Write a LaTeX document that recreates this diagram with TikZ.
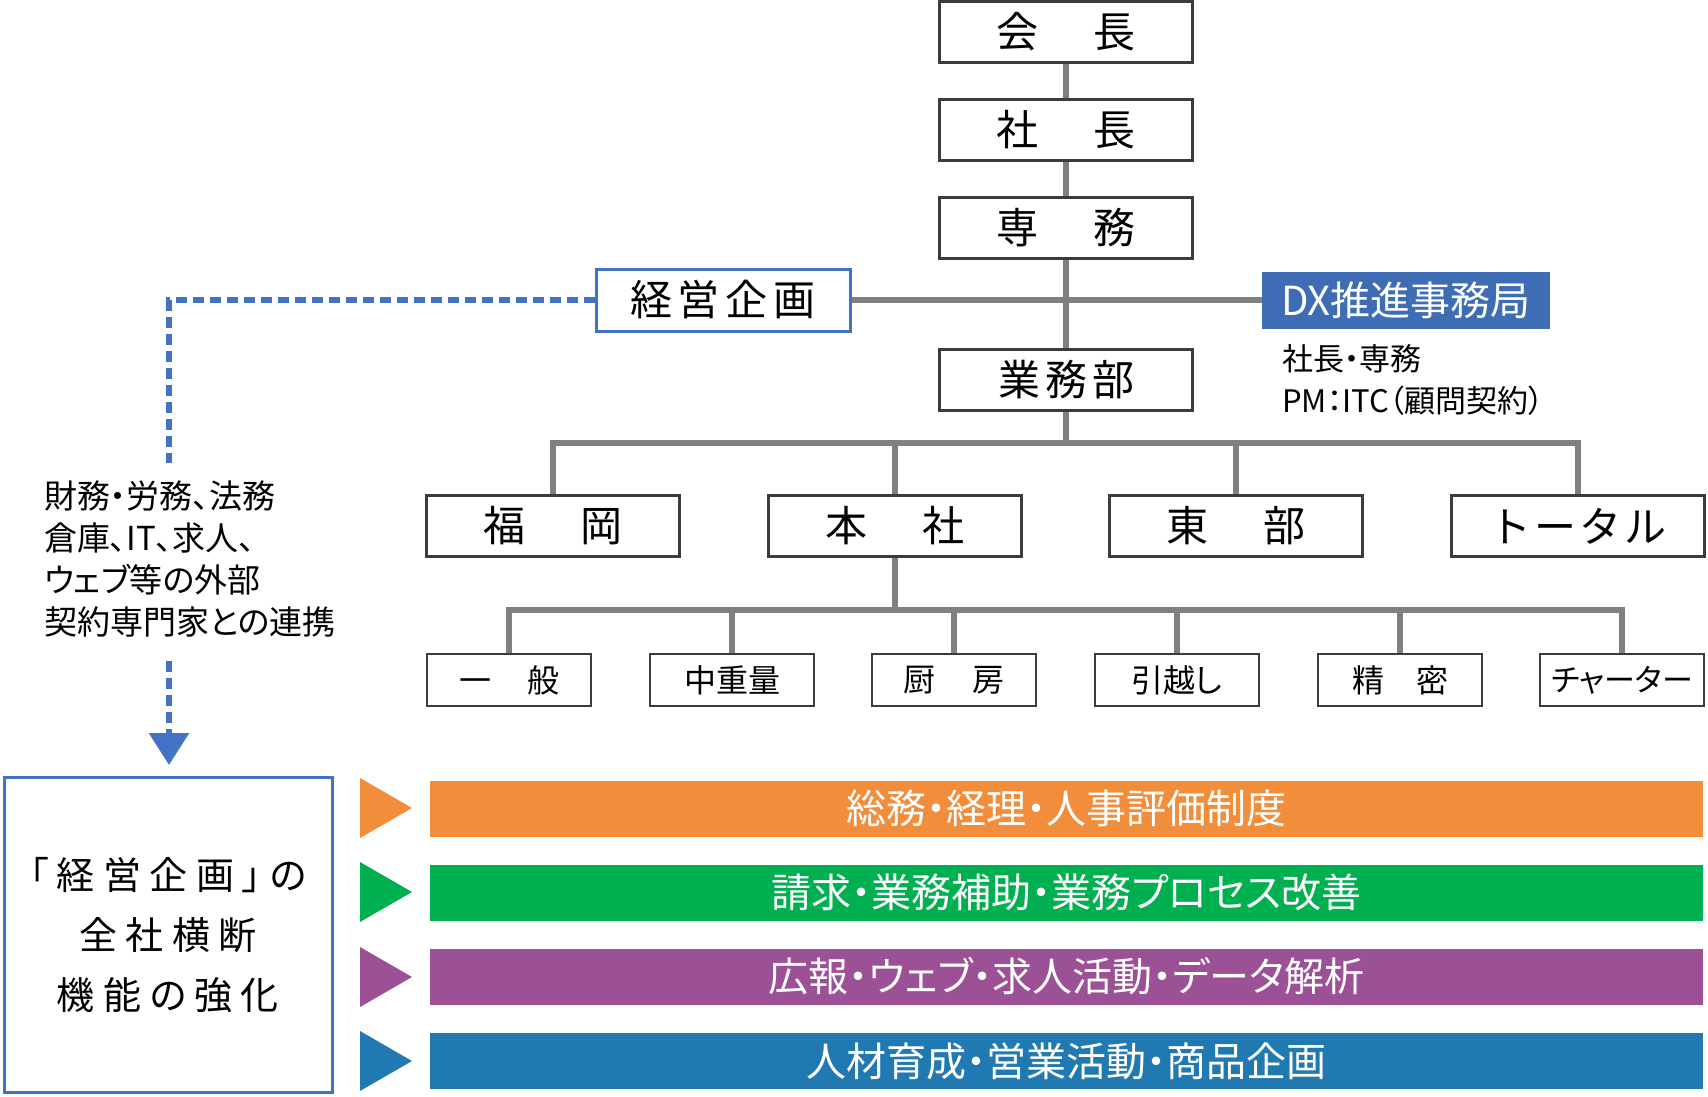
\documentclass[tikz,border=0pt]{standalone}
\usepackage{fontspec}
\usetikzlibrary{arrows.meta}
\newfontfamily\jp{Noto Sans CJK JP}
\newfontfamily\jpp[RawFeature=+palt]{Noto Sans CJK JP}
\newfontfamily\jpw[RawFeature=+palt,LetterSpace=22]{Noto Sans CJK JP}
\definecolor{linegray}{HTML}{808080}
\definecolor{boxgray}{HTML}{3C3C3C}
\definecolor{dxblue}{HTML}{3E6DB6}
\definecolor{kblue}{HTML}{4472C4}
\definecolor{corange}{HTML}{F28D3C}
\definecolor{cgreen}{HTML}{00B050}
\definecolor{cpurple}{HTML}{9C5096}
\definecolor{cblue}{HTML}{2179B1}
\begin{document}
\begin{tikzpicture}[x=1pt,y=-1pt,
  conn/.style={draw=linegray,line width=5.5pt},
  orgbox/.style={draw=boxgray,line width=2.5pt,fill=white,minimum width=253pt,minimum height=61pt,inner sep=0pt,font=\jp\fontsize{42}{50}\selectfont},
  subbox/.style={orgbox,minimum width=164pt,minimum height=52pt,font=\jpp\fontsize{32}{36}\selectfont},
  dashline/.style={draw=kblue,line width=6pt,dash pattern=on 11pt off 6pt},
  bar/.style={minimum width=1273pt,minimum height=56pt,inner sep=0pt,text=white,font=\jpp\fontsize{40}{44}\selectfont},
]
\useasboundingbox (0,0) rectangle (1708,1096);
\fill[white] (0,0) rectangle (1708,1096);

% top chain
\node[orgbox] (kaicho) at (1066,32) {会\kern55pt長};
\node[orgbox] (shacho) at (1066,130) {社\kern55pt長};
\node[orgbox] (senmu) at (1066,228) {専\kern55pt務};
\node[orgbox,draw=kblue,line width=3pt,minimum width=254pt,minimum height=62pt] (keiei) at (723,300) {経\kern6pt営\kern6pt企\kern6pt画};
\node[minimum width=288pt,minimum height=57pt,inner sep=0pt,fill=dxblue,text=white,font=\jp\fontsize{40}{46}\selectfont] (dx) at (1406,300) {DX推進事務局};
\node[anchor=west,align=left,inner sep=0pt,font=\jpp\fontsize{31}{42}\selectfont] (dxnote) at (1282,380) {社長・専務\\PM：ITC（顧問契約）};
\node[orgbox] (gyomu) at (1066,380) {業\kern5pt務\kern5pt部};

% level 2
\node[orgbox] (fukuoka) at (553,526) {福\kern55pt岡};
\node[orgbox] (honsha) at (895,526) {本\kern55pt社};
\node[orgbox] (tobu) at (1236,526) {東\kern55pt部};
\node[orgbox] (total) at (1578,526) {ト\kern3ptー\kern3ptタ\kern3ptル};

% level 3
\node[subbox] (ippan) at (509,680) {一\kern36pt般};
\node[subbox] (chuju) at (732,680) {中重量};
\node[subbox] (chubo) at (954,680) {厨\kern38pt房};
\node[subbox] (hikkoshi) at (1177,680) {引越し};
\node[subbox] (seimitsu) at (1400,680) {精\kern32pt密};
\node[subbox,font=\jpp\fontsize{31}{36}\selectfont] (charter) at (1622,680) {チャーター};

% connectors
\draw[conn] (kaicho.south) -- (shacho.north);
\draw[conn] (shacho.south) -- (senmu.north);
\draw[conn] (senmu.south) -- (gyomu.north);
\draw[conn] (keiei.east) -- (dx.west);
\coordinate (b1) at (1066,443);
\draw[conn] (gyomu.south) -- (b1);
\draw[conn] (fukuoka.north) |- (b1) -| (total.north);
\draw[conn] (honsha.north) -- (honsha.north |- b1);
\draw[conn] (tobu.north) -- (tobu.north |- b1);
\coordinate (b2) at (895,610);
\draw[conn] (honsha.south) -- (b2);
\draw[conn] (ippan.north) |- (b2) -| (charter.north);
\draw[conn] (chuju.north) -- (chuju.north |- b2);
\draw[conn] (chubo.north) -- (chubo.north |- b2);
\draw[conn] (hikkoshi.north) -- (hikkoshi.north |- b2);
\draw[conn] (seimitsu.north) -- (seimitsu.north |- b2);

% left side
\node[anchor=north west,align=left,inner sep=0pt,font=\jpp\fontsize{33}{42}\selectfont] (notes) at (44,481) {財務・労務、法務\\倉庫、IT、求人、\\ウェブ等の外部\\契約専門家との連携};
\node[draw=kblue,line width=3pt,minimum width=328pt,minimum height=315pt,inner sep=0pt,align=center,font=\jpw\fontsize{38}{60}\selectfont] (big) at (168,935) {「経営企画」の\\全社横断\\機能の強化};
\coordinate (d1) at (169,463);
\coordinate (d2) at (169,661);
\draw[dashline] (keiei.west) -| (d1);
\draw[dashline,-{Triangle[width=39pt,length=32pt]},shorten >=11pt] (d2) -- (big.north -| d2);

% bars
\node[bar,fill=corange] (bar1) at (1066.5,808.5) {総務・経理・人事評価制度};
\node[bar,fill=cgreen] (bar2) at (1066.5,892.5) {請求・業務補助・業務プロセス改善};
\node[bar,fill=cpurple] (bar3) at (1066.5,976.5) {広報・ウェブ・求人活動・データ解析};
\node[bar,fill=cblue] (bar4) at (1066.5,1061) {人材育成・営業活動・商品企画};
\fill[corange] (360,778) -- (412,808) -- (360,838) -- cycle;
\fill[cgreen] (360,862) -- (412,892) -- (360,922) -- cycle;
\fill[cpurple] (360,947) -- (412,977) -- (360,1007) -- cycle;
\fill[cblue] (360,1031) -- (412,1061) -- (360,1091) -- cycle;
\end{tikzpicture}
\end{document}
